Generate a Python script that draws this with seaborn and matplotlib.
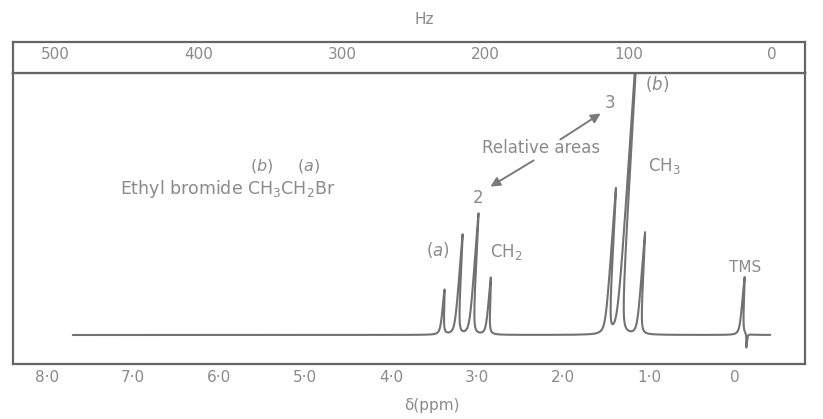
import numpy as np
import matplotlib
matplotlib.use("Agg")
import matplotlib.pyplot as plt
import seaborn as sns

# 60 MHz 1H NMR of ethyl bromide
peak_ppm = [3.41, 3.24, 3.07, 2.88, 1.49, 1.35, 1.12, -0.07]   # CH2 quartet, CH3 triplet, TMS
peak_height = [45, 100, 121, 57, 145, 320, 102, 58]
dip_ppm = [-0.14]          # little ringing spike under TMS
dip_height = [-14]

ppm_ticks = [8, 7, 6, 5, 4, 3, 2, 1, 0]
ppm_labels = ["8·0", "7·0", "6·0", "5·0", "4·0", "3·0", "2·0", "1·0", "0"]
hz_ticks = [500, 400, 300, 200, 100, 0]
hz_labels = ["500", "400", "300", "200", "100", "0"]

W, H = 823, 419
line_c = "#666666"
text_c = "#8a8a8a"


def fx(x):
    return x / W


def fy(y):
    return 1 - y / H


sns.set_theme(style="white")
plt.rcParams["font.family"] = ["DejaVu Sans"]
plt.rcParams["mathtext.fontset"] = "dejavusans"

fig = plt.figure(figsize=(W / 100, H / 100), dpi=100)

# main spectrum panel (ppm scale at bottom)
ax = fig.add_axes([fx(13), fy(364), (805 - 13) / W, (364 - 73) / H])
# Hz ruler strip on top
axh = fig.add_axes([fx(13), fy(73), (805 - 13) / W, (73 - 42) / H])

# build the trace from the peak list (narrow lorentzians), pen lean added
x = np.linspace(7.70, -0.41, 16000)
y = np.zeros_like(x)
w = 0.011
for p, h in zip(peak_ppm, peak_height):
    y += h * w ** 2 / ((x - p) ** 2 + w ** 2)
for p, h in zip(dip_ppm, dip_height):
    y += h * 0.005 ** 2 / ((x - p) ** 2 + 0.005 ** 2)
x_draw = x - 0.00072 * y

sns.lineplot(x=x_draw, y=y, sort=False, estimator=None, color="#727272",
             linewidth=1.5, ax=ax)

ax.set_xlim(8.395, -0.814)
ax.set_ylim(-29, 262)
ax.set_yticks([])
ax.set_xticks(ppm_ticks)
ax.set_xticklabels(ppm_labels)
ax.set_xticks(np.round(np.arange(8.0, -0.65, -0.1), 2), minor=True)
ax.tick_params(axis="x", which="both", direction="in", color=line_c, width=1.0,
               labelcolor=text_c, labelsize=11, pad=4)
ax.tick_params(axis="x", which="major", length=7)
ax.tick_params(axis="x", which="minor", length=3.5)
ax.set_xlabel("")
ax.set_ylabel("")

axh.set_xlim(529.3, -23)
axh.set_ylim(0, 1)
axh.set_yticks([])
axh.set_xticks(hz_ticks)
axh.set_xticklabels(hz_labels)
axh.set_xticks(np.arange(500, -30, -10), minor=True)
axh.tick_params(axis="x", which="both", direction="in", color=line_c, width=1.0,
                labelcolor=text_c, labelsize=11, pad=-19)
axh.tick_params(axis="x", which="major", length=5)
axh.tick_params(axis="x", which="minor", length=3.5)

for a in (ax, axh):
    for s in a.spines.values():
        s.set_color(line_c)
        s.set_linewidth(1.6)

# text annotations
fig.text(fx(424), fy(20), "Hz", color=text_c, fontsize=11, ha="center", va="center")
fig.text(fx(432), fy(405), "δ(ppm)", color=text_c, fontsize=11, ha="center", va="center")
fig.text(fx(228), fy(189), "Ethyl bromide CH$_3$CH$_2$Br", color=text_c, fontsize=12.5,
         ha="center", va="center")
fig.text(fx(262), fy(166), "($b$)", color=text_c, fontsize=11.5, ha="center", va="center")
fig.text(fx(308), fy(166), "($a$)", color=text_c, fontsize=11.5, ha="center", va="center")
fig.text(fx(438), fy(250), "($a$)", color=text_c, fontsize=12, ha="center", va="center")
fig.text(fx(490), fy(252), "CH$_2$", color=text_c, fontsize=12, ha="left", va="center")
fig.text(fx(478), fy(198), "2", color=text_c, fontsize=12, ha="center", va="center")
fig.text(fx(541), fy(148), "Relative areas", color=text_c, fontsize=12, ha="center", va="center")
fig.text(fx(610), fy(103), "3", color=text_c, fontsize=12, ha="center", va="center")
fig.text(fx(657), fy(84), "($b$)", color=text_c, fontsize=12, ha="center", va="center")
fig.text(fx(648), fy(166), "CH$_3$", color=text_c, fontsize=12, ha="left", va="center")
fig.text(fx(745), fy(267), "TMS", color=text_c, fontsize=11, ha="center", va="center")

arrow = dict(arrowstyle="-|>", color="#7a7a7a", lw=1.4, mutation_scale=14)
ax.annotate("", xy=(fx(488), fy(188)), xytext=(fx(536), fy(159)),
            xycoords="figure fraction", textcoords="figure fraction", arrowprops=arrow)
ax.annotate("", xy=(fx(603), fy(112)), xytext=(fx(558), fy(141)),
            xycoords="figure fraction", textcoords="figure fraction", arrowprops=arrow)

fig.savefig("out.png", dpi=100, facecolor="white")
